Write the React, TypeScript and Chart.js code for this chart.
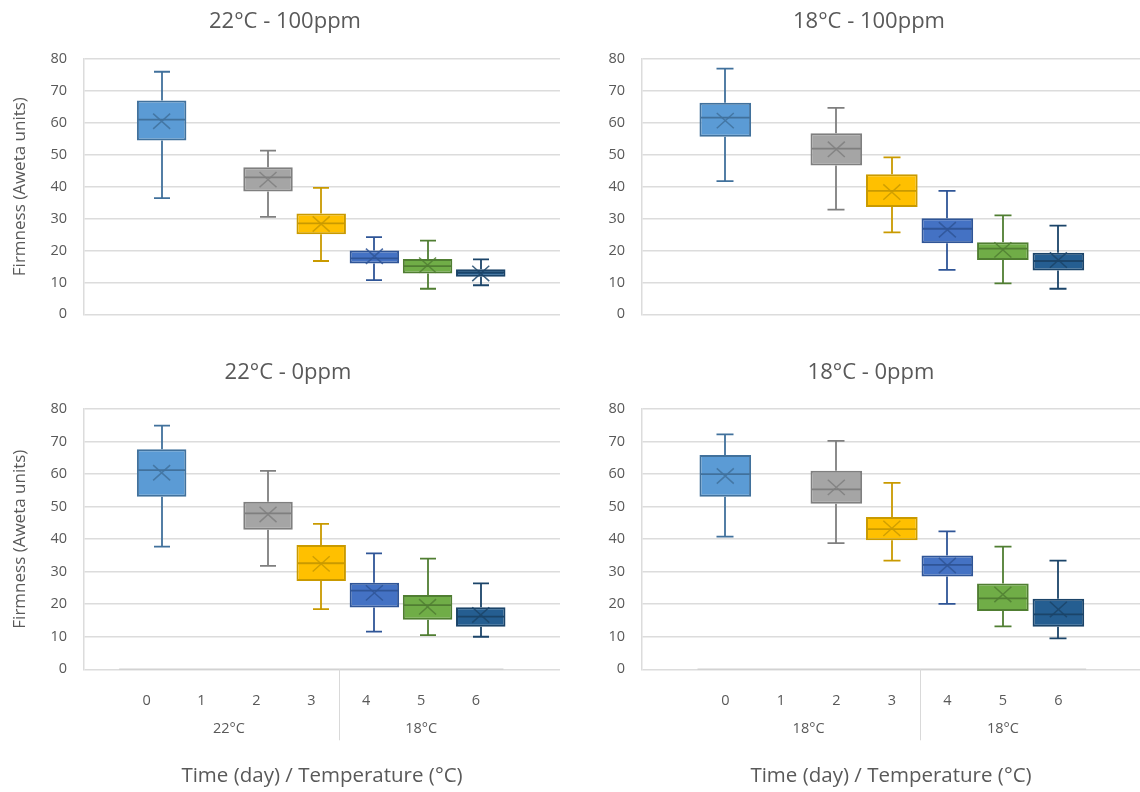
import React, { useEffect, useRef } from "react";
import { Chart, registerables } from "chart.js";

Chart.register(...registerables);

// Storage days that carry a box (day 1 has no measurement)
const DAYS = [0, 2, 3, 4, 5, 6];
// Day labels printed on the category axis
const DAY_TICKS = [0, 1, 2, 3, 4, 5, 6];
const Y_TICKS_MAX = 80;

const FILLS = ["#5B9BD5", "#A5A5A5", "#FFC000", "#4472C4", "#70AD47", "#255E91"];
const LINES = ["#41719C", "#7F7F7F", "#C99A00", "#2F5597", "#507E32", "#1B4469"];

// 22°C - 100ppm
const t22p100Min = [36.4, 30.5, 16.7, 10.7, 8.0, 9.1];
const t22p100Q1 = [54.5, 38.5, 25.1, 15.9, 12.8, 11.8];
const t22p100Median = [61.0, 42.9, 28.5, 17.5, 15.1, 13.1];
const t22p100Q3 = [67.0, 46.1, 31.6, 20.0, 17.3, 14.1];
const t22p100Max = [76.0, 51.3, 39.6, 24.2, 23.1, 17.2];
const t22p100Mean = [60.5, 42.2, 28.3, 18.2, 15.4, 12.8];

// 18°C - 100ppm
const t18p100Min = [41.7, 32.8, 25.7, 13.9, 9.7, 8.0];
const t18p100Q1 = [55.6, 46.6, 33.6, 22.3, 17.0, 13.7];
const t18p100Median = [61.6, 51.9, 38.7, 26.8, 20.6, 16.7];
const t18p100Q3 = [66.3, 56.7, 43.9, 30.1, 22.6, 19.3];
const t18p100Max = [77.0, 64.7, 49.2, 38.7, 31.0, 27.8];
const t18p100Mean = [60.7, 51.7, 38.3, 26.5, 20.2, 17.0];

// 22°C - 0ppm
const t22p0Min = [37.7, 31.8, 18.5, 11.6, 10.5, 10.0];
const t22p0Q1 = [53.0, 42.9, 27.1, 19.0, 15.2, 13.1];
const t22p0Median = [61.2, 47.9, 32.6, 24.2, 19.7, 16.2];
const t22p0Q3 = [67.6, 51.5, 38.2, 26.6, 22.8, 19.1];
const t22p0Max = [74.9, 61.0, 44.7, 35.6, 34.0, 26.4];
const t22p0Mean = [60.4, 47.6, 32.4, 23.5, 19.2, 16.7];

// 18°C - 0ppm
const t18p0Min = [40.8, 38.8, 33.4, 20.1, 13.2, 9.5];
const t18p0Q1 = [53.0, 50.9, 39.7, 28.5, 17.9, 13.1];
const t18p0Median = [60.0, 55.3, 43.1, 32.1, 21.8, 16.9];
const t18p0Q3 = [65.9, 61.0, 46.8, 35.0, 26.4, 21.7];
const t18p0Max = [72.2, 70.2, 57.3, 42.4, 37.7, 33.4];
const t18p0Mean = [59.4, 55.9, 43.3, 31.9, 23.0, 18.4];

const GROUPS_22_18 = ["22°C", "18°C"];
const GROUPS_18_18 = ["18°C", "18°C"];

const Y_TITLE = "Firmness (Aweta units)";
const X_TITLE = "Time (day) / Temperature (°C)";

const TEXT = "#595959";
const GRID = "#DCDCDC";
const FONT = "'Open Sans', 'Noto Sans', sans-serif";

type Stats = {
  min: number[];
  q1: number[];
  median: number[];
  q3: number[];
  max: number[];
  mean: number[];
};

type Panel = {
  title: string;
  stats: Stats;
  left: number;
  top: number;
  width: number;
  height: number;
  titleX: number;
  titleY: number;
  axisWidth: number;
  padRight: number;
  padBottom: number;
  boxRange: [number, number];
  labelRange: [number, number];
  yTitle: boolean;
  groups: string[] | null;
  capHalf: number;
};

const PANELS: Panel[] = [
  {
    title: "22°C - 100ppm",
    stats: { min: t22p100Min, q1: t22p100Q1, median: t22p100Median, q3: t22p100Q3, max: t22p100Max, mean: t22p100Mean },
    left: 0, top: 0, width: 570, height: 340,
    titleX: 285, titleY: 22,
    axisWidth: 84, padRight: 10, padBottom: 21.7,
    boxRange: [-1.46, 7.49], labelRange: [-1.46, 7.49],
    yTitle: true, groups: null, capHalf: 8,
  },
  {
    title: "18°C - 100ppm",
    stats: { min: t18p100Min, q1: t18p100Q1, median: t18p100Median, q3: t18p100Q3, max: t18p100Max, mean: t18p100Mean },
    left: 570, top: 0, width: 570, height: 340,
    titleX: 299, titleY: 22,
    axisWidth: 72, padRight: 0, padBottom: 21.7,
    boxRange: [-1.5, 7.47], labelRange: [-1.5, 7.47],
    yTitle: false, groups: null, capHalf: 8.5,
  },
  {
    title: "22°C - 0ppm",
    stats: { min: t22p0Min, q1: t22p0Q1, median: t22p0Median, q3: t22p0Q3, max: t22p0Max, mean: t22p0Mean },
    left: 0, top: 350, width: 570, height: 442,
    titleX: 288, titleY: 23,
    axisWidth: 84, padRight: 10, padBottom: 0,
    boxRange: [-1.46, 7.49], labelRange: [-1.14, 7.53],
    yTitle: true, groups: GROUPS_22_18, capHalf: 8,
  },
  {
    title: "18°C - 0ppm",
    stats: { min: t18p0Min, q1: t18p0Q1, median: t18p0Median, q3: t18p0Q3, max: t18p0Max, mean: t18p0Mean },
    left: 570, top: 350, width: 570, height: 442,
    titleX: 301, titleY: 23,
    axisWidth: 72, padRight: 0, padBottom: 0,
    boxRange: [-1.5, 7.47], labelRange: [-1.5, 7.47],
    yTitle: false, groups: GROUPS_18_18, capHalf: 8.5,
  },
];

function withAlpha(hex: string, a: number) {
  const n = parseInt(hex.slice(1), 16);
  return `rgba(${(n >> 16) & 255},${(n >> 8) & 255},${n & 255},${a})`;
}

function makePlugins(p: Panel) {
  const s = p.stats;

  const panelTitle = {
    id: "panelTitle",
    afterDraw(chart: any) {
      const { ctx } = chart;
      ctx.save();
      ctx.font = `22px ${FONT}`;
      ctx.fillStyle = TEXT;
      ctx.textAlign = "center";
      ctx.textBaseline = "middle";
      ctx.fillText(p.title, p.titleX, p.titleY);
      ctx.restore();
    },
  };

  const whiskers = {
    id: "whiskers",
    beforeDatasetsDraw(chart: any) {
      const { ctx } = chart;
      const xs = chart.scales.x;
      const ys = chart.scales.y;
      ctx.save();
      ctx.lineWidth = 1.8;
      DAYS.forEach((d, i) => {
        const x = Math.round(xs.getPixelForValue(d));
        const yMax = ys.getPixelForValue(s.max[i]);
        const yMin = ys.getPixelForValue(s.min[i]);
        ctx.strokeStyle = LINES[i];
        ctx.beginPath();
        ctx.moveTo(x, yMax);
        ctx.lineTo(x, ys.getPixelForValue(s.q3[i]));
        ctx.moveTo(x, ys.getPixelForValue(s.q1[i]));
        ctx.lineTo(x, yMin);
        ctx.moveTo(x - p.capHalf, yMax);
        ctx.lineTo(x + p.capHalf, yMax);
        ctx.moveTo(x - p.capHalf, yMin);
        ctx.lineTo(x + p.capHalf, yMin);
        ctx.stroke();
      });
      ctx.restore();
    },
    afterDatasetsDraw(chart: any) {
      const { ctx } = chart;
      const ys = chart.scales.y;
      const meta = chart.getDatasetMeta(0);
      ctx.save();
      DAYS.forEach((d, i) => {
        const el = meta.data[i];
        const half = el.width / 2;
        const x = el.x;
        const ym = ys.getPixelForValue(s.median[i]);
        ctx.strokeStyle = LINES[i];
        ctx.lineWidth = 1.8;
        ctx.beginPath();
        ctx.moveTo(x - half + 1, ym);
        ctx.lineTo(x + half - 1, ym);
        ctx.stroke();
        const yc = ys.getPixelForValue(s.mean[i]);
        const r = 8.5;
        ctx.strokeStyle = withAlpha(LINES[i], 0.85);
        ctx.lineWidth = 1.5;
        ctx.beginPath();
        ctx.moveTo(x - r, yc - r * 0.9);
        ctx.lineTo(x + r, yc + r * 0.9);
        ctx.moveTo(x + r, yc - r * 0.9);
        ctx.lineTo(x - r, yc + r * 0.9);
        ctx.stroke();
      });
      ctx.restore();
    },
  };

  const groupAxis = {
    id: "groupAxis",
    afterDraw(chart: any) {
      if (!p.groups) return;
      const { ctx, chartArea } = chart;
      const xl = chart.scales.xl;
      const base = chartArea.bottom;
      ctx.save();
      // category axis line over the day range
      ctx.strokeStyle = "#D2D2D2";
      ctx.lineWidth = 1.5;
      ctx.beginPath();
      ctx.moveTo(xl.getPixelForValue(DAY_TICKS[0] - 0.5), base);
      ctx.lineTo(xl.getPixelForValue(DAY_TICKS[DAY_TICKS.length - 1] + 0.5), base);
      ctx.stroke();
      // divider between the two temperature groups
      const sx = Math.round(xl.getPixelForValue(3.5)) + 0.5;
      ctx.strokeStyle = "#D9D9D9";
      ctx.lineWidth = 1;
      ctx.beginPath();
      ctx.moveTo(sx, base);
      ctx.lineTo(sx, base + 71);
      ctx.stroke();
      ctx.font = `14.5px ${FONT}`;
      ctx.fillStyle = TEXT;
      ctx.textAlign = "center";
      ctx.textBaseline = "middle";
      ctx.fillText(p.groups[0], xl.getPixelForValue(1.5), base + 60);
      ctx.fillText(p.groups[1], xl.getPixelForValue(5), base + 60);
      ctx.restore();
    },
  };

  return [panelTitle, whiskers, groupAxis];
}

function BoxPanel({ panel }: { panel: Panel }) {
  const ref = useRef<HTMLCanvasElement | null>(null);

  useEffect(() => {
    const canvas = ref.current;
    if (!canvas) return;
    const s = panel.stats;
    const showX = panel.groups !== null;
    const chart = new Chart(canvas, {
      type: "bar",
      data: {
        datasets: [
          {
            data: DAYS.map((d, i) => ({ x: d, y: [s.q1[i], s.q3[i]] })) as any,
            backgroundColor: FILLS,
            borderColor: LINES,
            borderWidth: 2,
            borderSkipped: false,
            categoryPercentage: 1,
            barPercentage: 0.93,
            xAxisID: "x",
            yAxisID: "y",
          },
        ],
      },
      options: {
        responsive: false,
        animation: false,
        devicePixelRatio: 1,
        layout: {
          padding: { left: 0, right: panel.padRight, top: 59, bottom: panel.padBottom },
        },
        plugins: {
          legend: { display: false },
          tooltip: { enabled: false },
          title: { display: false },
        },
        scales: {
          x: {
            type: "linear",
            display: false,
            offset: false,
            grid: { offset: false },
            min: panel.boxRange[0],
            max: panel.boxRange[1],
          },
          xl: {
            type: "linear",
            position: "bottom",
            display: showX,
            offset: false,
            min: panel.labelRange[0],
            max: panel.labelRange[1],
            grid: { display: false, offset: false },
            border: { display: false },
            afterBuildTicks: (axis: any) => {
              axis.ticks = DAY_TICKS.map((v) => ({ value: v }));
            },
            afterFit: (axis: any) => {
              axis.height = showX ? 122.7 : 0;
            },
            ticks: {
              autoSkip: false,
              maxRotation: 0,
              padding: 15,
              color: TEXT,
              font: { family: FONT, size: 14.5 },
            },
            title: {
              display: true,
              text: X_TITLE,
              color: TEXT,
              font: { family: FONT, size: 20.5 },
              padding: { top: 0, bottom: 4 },
            },
          },
          y: {
            type: "linear",
            min: 0,
            max: Y_TICKS_MAX,
            afterFit: (axis: any) => {
              axis.width = panel.axisWidth;
            },
            ticks: {
              stepSize: 10,
              autoSkip: false,
              padding: 17,
              color: TEXT,
              font: { family: FONT, size: 14.5 },
            },
            grid: { color: GRID, lineWidth: 1.5, drawTicks: false },
            border: { display: true, color: GRID, width: 1.5 },
            title: {
              display: panel.yTitle,
              text: Y_TITLE,
              color: TEXT,
              font: { family: FONT, size: 17 },
              padding: { top: 10, bottom: 0 },
            },
          },
        } as any,
      },
      plugins: makePlugins(panel),
    });
    return () => chart.destroy();
  }, [panel]);

  return (
    <canvas
      ref={ref}
      width={panel.width}
      height={panel.height}
      style={{
        position: "absolute",
        left: panel.left,
        top: panel.top,
        width: panel.width,
        height: panel.height,
      }}
    />
  );
}

export default function App() {
  return (
    <div
      style={{
        position: "absolute",
        left: 0,
        top: 0,
        width: 1140,
        height: 792,
        background: "#FFFFFF",
        overflow: "hidden",
      }}
    >
      {PANELS.map((p) => (
        <BoxPanel key={p.title} panel={p} />
      ))}
    </div>
  );
}
